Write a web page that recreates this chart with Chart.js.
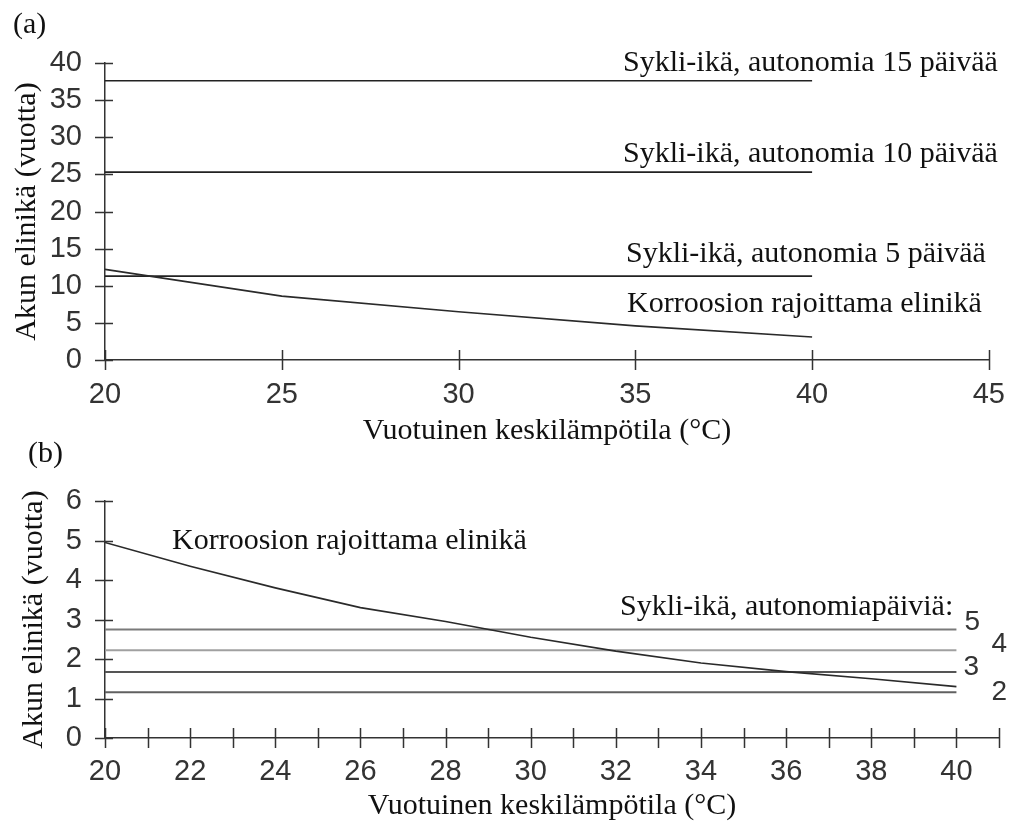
<!DOCTYPE html>
<html><head><meta charset="utf-8">
<script src="https://cdn.jsdelivr.net/npm/chart.js@4.4.0/dist/chart.umd.min.js"></script>
<style>
html,body{margin:0;padding:0;background:#fff;width:1023px;height:827px;overflow:hidden;position:relative;}
.wrap{position:absolute;left:0;width:1023px;}
#wa{top:0;height:452px;}
#wb{top:440px;height:387px;}
.lab{position:absolute;font-family:"Liberation Serif","Times New Roman",serif;font-size:30px;color:#111;line-height:1;}
</style></head><body>
<div class="wrap" id="wa"><canvas id="ca" width="1023" height="452"></canvas></div>
<div class="wrap" id="wb"><canvas id="cb" width="1023" height="387"></canvas></div>
<div class="lab" style="left:13px;top:8px">(a)</div>
<div class="lab" style="left:28px;top:437px">(b)</div>
<script>
// ---------- Data: panel (a) ----------
const tempA = [20, 25, 30, 35, 40];
const corrosionA = [12.2, 8.6, 6.5, 4.6, 3.1];
const autonomyDaysA = [15, 10, 5];
const cycleLifeA = [37.6, 25.3, 11.3];
const spanA = [20, 40];
const xTicksA = [20, 25, 30, 35, 40, 45];
const yTicksA = [0, 5, 10, 15, 20, 25, 30, 35, 40];

// ---------- Data: panel (b) ----------
const tempB = [20, 22, 24, 26, 28, 30, 32, 34, 36, 38, 40];
const corrosionB = [4.95, 4.35, 3.8, 3.3, 2.95, 2.55, 2.2, 1.9, 1.68, 1.5, 1.3];
const autonomyDaysB = [5, 4, 3, 2];
const cycleLifeB = [2.75, 2.22, 1.67, 1.16];
const spanB = [20, 40];
const xTicksB = [20, 21, 22, 23, 24, 25, 26, 27, 28, 29, 30, 31, 32, 33, 34, 35, 36, 37, 38, 39, 40, 41];
const yTicksB = [0, 1, 2, 3, 4, 5, 6];

// ---------- Text ----------
const yTitle = 'Akun elinikä (vuotta)';
const xTitle = 'Vuotuinen keskilämpötila (°C)';
const corrosionLabel = 'Korroosion rajoittama elinikä';
const cycleLabelA = d => 'Sykli-ikä, autonomia ' + d + ' päivää';
const cycleLabelB = 'Sykli-ikä, autonomiapäiviä:';

const SERIF = '"Liberation Serif","Times New Roman",serif';
const SANS = '"Liberation Sans",Arial,sans-serif';
const AXIS = '#333';
const TXT = '#111';

const crossTicks = {
  id: 'crossTicks',
  afterDraw(chart) {
    const {ctx, chartArea} = chart;
    const xs = chart.scales.x, ys = chart.scales.y;
    ctx.save();
    ctx.strokeStyle = AXIS;
    ctx.lineWidth = 1.5;
    ctx.beginPath();
    xs.ticks.forEach(t => {
      const px = Math.round(xs.getPixelForValue(t.value)) + 0.5;
      ctx.moveTo(px, chartArea.bottom - 10);
      ctx.lineTo(px, chartArea.bottom + 10);
    });
    ys.ticks.forEach(t => {
      const py = Math.round(ys.getPixelForValue(t.value)) + 0.5;
      ctx.moveTo(chartArea.left - 10, py);
      ctx.lineTo(chartArea.left + 8, py);
    });
    ctx.stroke();
    ctx.restore();
  }
};

function fixedTicks(list) {
  return function (scale) {
    scale.ticks = list.map(v => ({value: v}));
  };
}

function scalesFor(o) {
  return {
    x: {
      type: 'linear', min: o.xmin, max: o.xmax,
      afterBuildTicks: fixedTicks(o.xticks),
      ticks: {
        font: {family: SANS, size: 29}, color: AXIS, padding: o.xpad,
        maxRotation: 0, autoSkip: false,
        callback: o.xlabel
      },
      grid: {display: false, drawTicks: false},
      border: {display: true, color: AXIS, width: 1.5},
      title: {display: true, text: xTitle, color: TXT,
        font: {family: SERIF, size: 30}, padding: {top: 0, bottom: o.xtpad}},
      afterFit(s) { s.height = o.xh; }
    },
    y: {
      type: 'linear', min: o.ymin, max: o.ymax,
      afterBuildTicks: fixedTicks(o.yticks),
      ticks: {font: {family: SANS, size: 29}, color: AXIS, padding: 23, autoSkip: false},
      grid: {display: false, drawTicks: false},
      border: {display: true, color: AXIS, width: 1.5},
      title: {display: true, text: yTitle, color: TXT,
        font: {family: SERIF, size: 30}, padding: {top: o.ytpad, bottom: 0}},
      afterFit(s) { s.width = 105; }
    }
  };
}

// ---------- Chart (a) ----------
const dsA = [{
  data: tempA.map((t, i) => ({x: t, y: corrosionA[i]})),
  borderColor: '#2a2a2a', borderWidth: 1.6
}].concat(cycleLifeA.map(v => ({
  data: spanA.map(t => ({x: t, y: v})),
  borderColor: '#222', borderWidth: 1.6
})));

const annotA = {
  id: 'annotA',
  afterDraw(chart) {
    const {ctx} = chart;
    const ys = chart.scales.y;
    ctx.save();
    ctx.fillStyle = TXT;
    ctx.font = '30px ' + SERIF;
    ctx.textBaseline = 'alphabetic';
    ctx.textAlign = 'left';
    const lift = [10, 10, 14];
    autonomyDaysA.forEach((d, i) => {
      ctx.fillText(cycleLabelA(d), i === 2 ? 626 : 623, ys.getPixelForValue(cycleLifeA[i]) - lift[i]);
    });
    ctx.fillText(corrosionLabel, 627, ys.getPixelForValue(cycleLifeA[2]) + 36);
    ctx.restore();
  }
};

new Chart(document.getElementById('ca'), {
  type: 'line',
  data: {datasets: dsA},
  options: {
    responsive: false, animation: false, events: [],
    layout: {padding: {left: 0, right: 24, top: 63, bottom: 0}},
    plugins: {legend: {display: false}, tooltip: {enabled: false}},
    elements: {point: {radius: 0}, line: {tension: 0}},
    scales: scalesFor({xmin: 20, xmax: 45, ymin: 0, ymax: 40, xticks: xTicksA, yticks: yTicksA,
      xpad: 18, xtpad: 3, xh: 92, ytpad: 9, xlabel: v => v})
  },
  plugins: [crossTicks, annotA]
});

// ---------- Chart (b) ----------
const lineColorsB = ['#7a7a7a', '#a0a0a0', '#555', '#606060'];
const dsB = [{
  data: tempB.map((t, i) => ({x: t, y: corrosionB[i]})),
  borderColor: '#2a2a2a', borderWidth: 1.6
}].concat(cycleLifeB.map((v, i) => ({
  data: spanB.map(t => ({x: t, y: v})),
  borderColor: lineColorsB[i], borderWidth: 2
})));

const annotB = {
  id: 'annotB',
  afterDraw(chart) {
    const {ctx} = chart;
    const xs = chart.scales.x, ys = chart.scales.y;
    ctx.save();
    ctx.fillStyle = TXT;
    ctx.font = '30px ' + SERIF;
    ctx.textBaseline = 'alphabetic';
    ctx.textAlign = 'left';
    ctx.fillText(corrosionLabel, 172, ys.getPixelForValue(corrosionB[0]) + 7);
    ctx.fillText(cycleLabelB, 620, ys.getPixelForValue(cycleLifeB[0]) - 14);
    ctx.font = '28px ' + SANS;
    ctx.fillStyle = AXIS;
    ctx.textBaseline = 'middle';
    const endX = xs.getPixelForValue(spanB[1]);
    const dx = [8, 35, 7, 35];
    const dy = [-7, -6, -5, 0];
    autonomyDaysB.forEach((d, i) => {
      ctx.fillText(String(d), endX + dx[i], ys.getPixelForValue(cycleLifeB[i]) + dy[i]);
    });
    ctx.restore();
  }
};

new Chart(document.getElementById('cb'), {
  type: 'line',
  data: {datasets: dsB},
  options: {
    responsive: false, animation: false, events: [],
    layout: {padding: {left: 0, right: 24, top: 61, bottom: 0}},
    plugins: {legend: {display: false}, tooltip: {enabled: false}},
    elements: {point: {radius: 0}, line: {tension: 0}},
    scales: scalesFor({xmin: 20, xmax: 41, ymin: 0, ymax: 6, xticks: xTicksB, yticks: yTicksB,
      xpad: 17, xtpad: 3, xh: 89, ytpad: 16, xlabel: v => (v % 2 === 0 && v <= 40) ? v : ''})
  },
  plugins: [crossTicks, annotB]
});
</script>
</body></html>
